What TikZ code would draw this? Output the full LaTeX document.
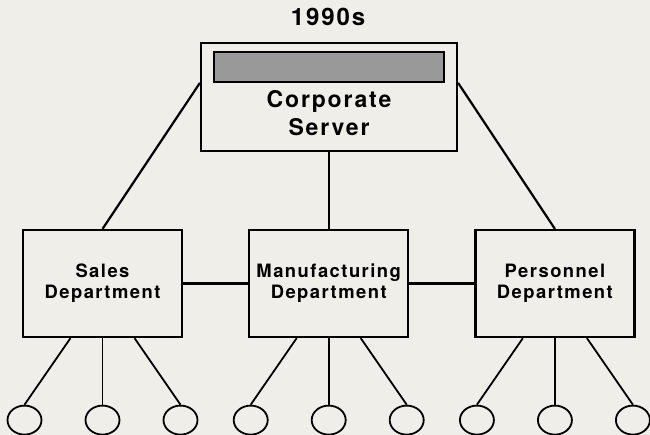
\documentclass[tikz,border=0pt]{standalone}
\usepackage{fontspec}
\setmainfont[LetterSpace=8]{TeX Gyre Heros}
\usetikzlibrary{positioning,shapes.geometric,calc}
\definecolor{paper}{HTML}{F0EEE8}

\begin{document}
\begin{tikzpicture}[x=1pt,y=-1pt,line width=2.2pt,node distance=65pt,
                    dept/.style={rectangle,draw,minimum width=159pt,minimum height=107pt,
                      align=center,font=\bfseries\fontsize{18.4}{21}\selectfont},
                    leaf/.style={ellipse,draw,line width=1.8pt,minimum width=34pt,
                      minimum height=29pt,inner sep=0pt}]
  \fill[paper] (0,0) rectangle (650,435);
  \useasboundingbox (0,0) rectangle (650,435);

  \node[font=\bfseries\fontsize{24}{28}\selectfont] (title) at (328,17) {1990s};

  % server box with its display bar
  \node[draw,minimum width=256pt,minimum height=108pt] (server) at (329,97) {};
  \node[draw,line width=1.8pt,fill=black!40,minimum width=230pt,minimum height=30pt] (bar) at (329,67) {};
  \node[align=center,font=\bfseries\fontsize{23}{28}\selectfont] (srvtext) at (329,113) {Corporate\\Server};

  \node[dept] (sales) at (102.5,283.5) {Sales\\Department};
  \node[dept] (manu) [right=of sales] {Manufacturing\\Department};
  \node[dept] (pers) [right=of manu] {Personnel\\Department};

  \path
    (server.west |- bar.south) edge (sales.north)
    (server.east |- bar.south) edge (pers.north)
    (server.south) edge (server.south |- manu.north)
    (sales) edge (manu)
    (manu) edge (pers);

  % three terminals under each department
  \foreach \d in {sales,manu,pers}
    \foreach \i in {-1,0,1} {
      \node[leaf] (\d\i) at ($(\d.south)+(78*\i,82)$) {};
      \draw[line width=1.8pt] ([xshift=32*\i pt]\d.south) -- (\d\i.north);
    }
\end{tikzpicture}
\end{document}
